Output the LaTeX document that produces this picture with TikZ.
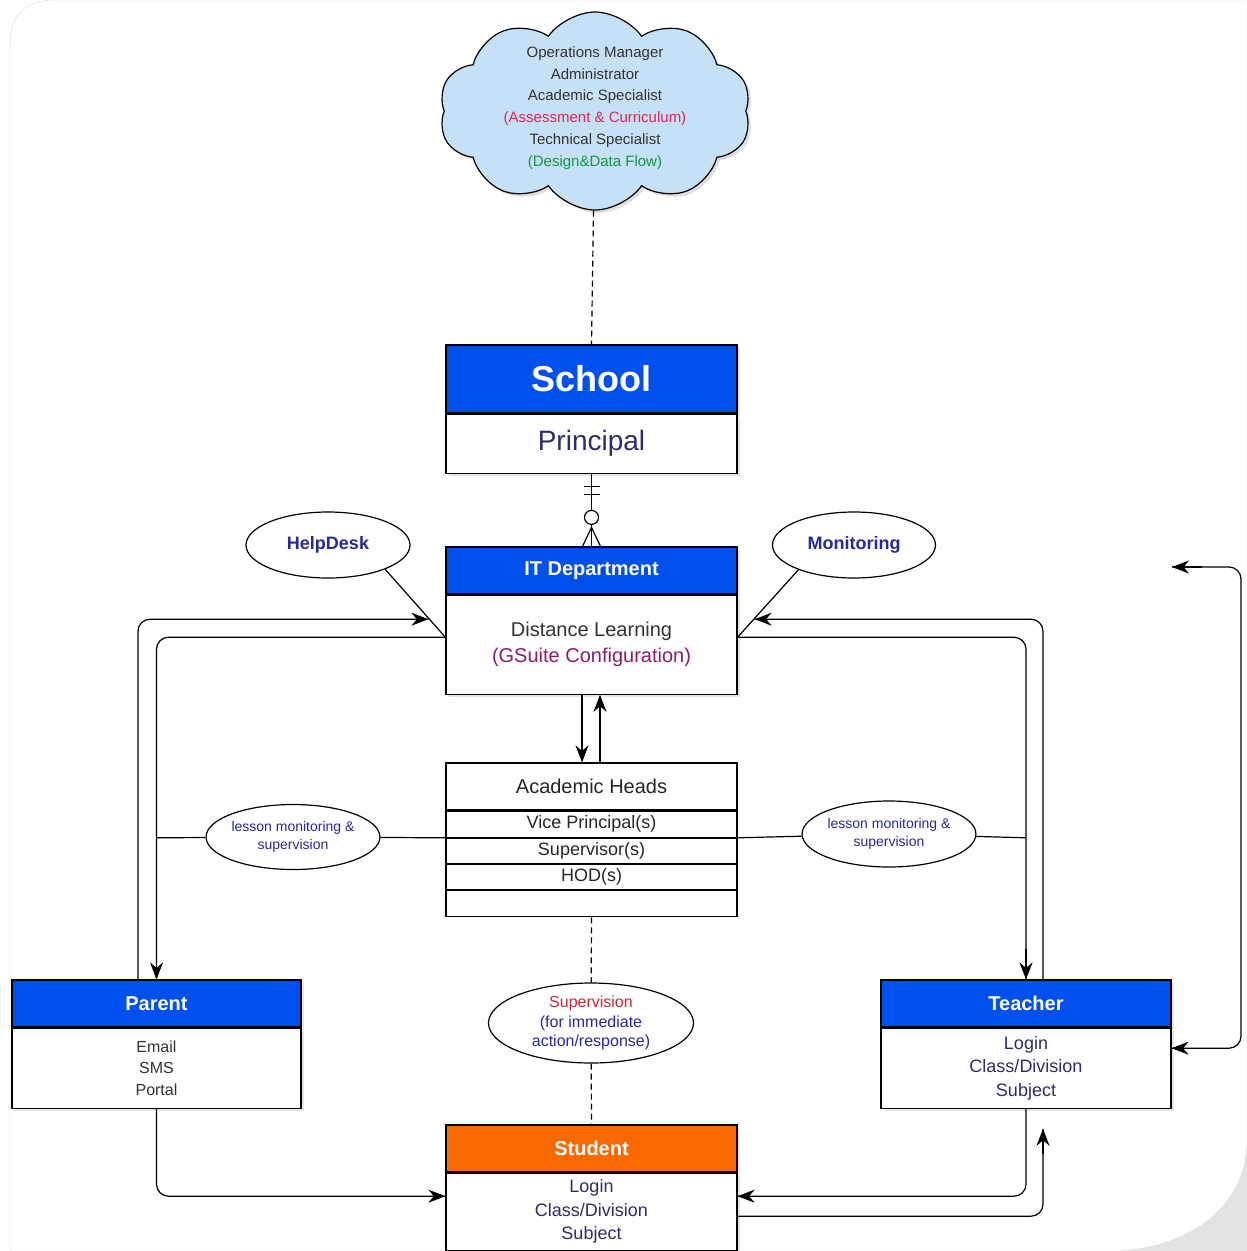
\documentclass[tikz,border=0pt]{standalone}
\usepackage{fontspec}
\setmainfont{Liberation Sans}
\usepackage{tikz}
\usetikzlibrary{arrows.meta, positioning, shapes.geometric, shapes.symbols, shadows, calc}
\definecolor{headblue}{RGB}{0,80,239}
\definecolor{headorange}{RGB}{250,104,0}
\definecolor{cloudblue}{RGB}{198,224,246}
\definecolor{notenavy}{RGB}{40,40,150}
\definecolor{bodynavy}{RGB}{45,45,105}
\definecolor{gsuitepurple}{RGB}{140,30,100}
\definecolor{assessred}{RGB}{220,40,90}
\definecolor{designgreen}{RGB}{20,150,70}
\definecolor{supred}{RGB}{200,40,60}

\begin{document}
\begin{tikzpicture}[x=1pt, y=-1pt,
head node/.style={rectangle, draw=black, line width=1.2pt, fill=headblue, text=white, font=\bfseries\fontsize{20}{24}\selectfont, minimum width=291pt, minimum height=47pt, inner sep=0pt, drop shadow={opacity=0.2, shadow xshift=3pt, shadow yshift=-3pt}},
body node/.style={rectangle, draw=black, line width=1.2pt, fill=white, align=center, minimum width=291pt, inner sep=0pt, font=\fontsize{18}{23.5}\selectfont, drop shadow={opacity=0.2, shadow xshift=3pt, shadow yshift=-3pt}},
row node/.style={rectangle, draw=black, line width=1.2pt, fill=white, minimum width=291pt, inner sep=0pt, text=black!85, font=\fontsize{18}{20}\selectfont},
note node/.style={ellipse, draw=black, line width=1.2pt, fill=white, align=center, inner sep=0pt, text=notenavy},
line/.style={draw=black, line width=1.2pt},
tip/.style={-{Stealth[length=17pt,width=13pt]}},
bend line/.style={line, rounded corners=12pt},
dashline/.style={line, dash pattern=on 6pt off 4pt}]
\useasboundingbox (0,0) rectangle (1247,1251);
\fill[gray!22] (1080,1100) rectangle (1247,1251);
\draw[gray!30, fill=white] (10,1251) -- (10,45) .. controls (10,15) and (25,0) .. (55,0) -- (1247,0) -- (1247,1140) .. controls (1247,1200) and (1200,1245) .. (1120,1251) -- cycle;

\node[cloud, cloud puffs=10, cloud puff arc=110, aspect=1.6, draw=black, line width=1.2pt, fill=cloudblue, minimum width=312pt, minimum height=198pt, inner sep=0pt, text=black!80, font=\fontsize{15}{21.8}\selectfont, drop shadow={opacity=0.25, shadow xshift=3pt, shadow yshift=-3pt}] (team) at (595,111) {\raisebox{0pt}[0pt][0pt]{\begin{tabular}{@{}c@{}}Operations Manager\\Administrator\\Academic Specialist\\\textcolor{assessred}{(Assessment \& Curriculum)}\\Technical Specialist\\\textcolor{designgreen}{(Design\&Data Flow)}\end{tabular}}};

\node[head node, minimum height=68pt, font=\bfseries\fontsize{36}{40}\selectfont] (school) at (591.5,379) {School};
\node[body node, minimum height=59pt, text=bodynavy, font=\fontsize{28}{32}\selectfont, below=0pt of school] (principal) {Principal};

\node[head node] (ithead) at (591.5,570.5) {IT Department};
\node[body node, minimum height=99pt, text=black!80, font=\fontsize{20}{26}\selectfont, below=0pt of ithead] (itbody) {Distance Learning\\\textcolor{gsuitepurple}{(GSuite Configuration)}};

\node[row node, minimum height=47pt, font=\fontsize{20}{24}\selectfont] (acad) at (591.5,786.5) {Academic Heads};
\node[row node, minimum height=26pt, below=0pt of acad] (vp) {Vice Principal(s)};
\node[row node, minimum height=25pt, below=0pt of vp] (sup) {Supervisor(s)};
\node[row node, minimum height=25pt, below=0pt of sup] (hod) {HOD(s)};
\node[row node, minimum height=26pt, below=0pt of hod] (blank) {};

\node[head node, minimum width=289pt] (parenthead) at (156.5,1003.5) {Parent};
\node[body node, minimum width=289pt, minimum height=80pt, text=black!80, font=\fontsize{16}{21.5}\selectfont, below=0pt of parenthead] (parentbody) {Email\\SMS\\Portal};

\node[head node, minimum width=290pt] (teacherhead) at (1026,1003.5) {Teacher};
\node[body node, minimum width=290pt, minimum height=80pt, text=bodynavy, below=0pt of teacherhead] (teacherbody) {Login\\Class/Division\\Subject};

\node[head node, fill=headorange] (studenthead) at (591.5,1148.5) {Student};
\node[body node, minimum height=77pt, text=bodynavy, below=0pt of studenthead] (studentbody) {Login\\Class/Division\\Subject};

\node[note node, minimum width=164pt, minimum height=66pt, font=\bfseries\fontsize{18}{22}\selectfont] (helpdesk) at (328,545) {HelpDesk};
\node[note node, minimum width=163pt, minimum height=66pt, font=\bfseries\fontsize{18}{22}\selectfont] (monitor) at (854,545) {Monitoring};
\node[note node, minimum width=163pt, minimum height=65pt, font=\fontsize{14}{18}\selectfont] (lesl) at (293,837) {lesson monitoring \&\\supervision};
\node[note node, minimum width=162pt, minimum height=66pt, font=\fontsize{14}{18}\selectfont] (lesr) at (889,834) {lesson monitoring \&\\supervision};
\node[note node, minimum width=205pt, minimum height=80pt, font=\fontsize{16}{19.5}\selectfont] (superv) at (591,1023) {\textcolor{supred}{Supervision}\\(for immediate\\action/response)};

\coordinate (loose) at (1172,567);

\draw[dashline] (team) -- (school.north);
\draw[line] (principal.south) -- (ithead.north);
\draw[line] ([xshift=-8pt,yshift=-13pt]principal.south) -- ++(16,0);
\draw[line] ([xshift=-8pt,yshift=-21pt]principal.south) -- ++(16,0);
\draw[line, fill=white] ($(ithead.north)+(0,-29)$) circle (7pt);
\draw[line] ($(ithead.north)+(-9,0)$) -- ($(ithead.north)+(0,-19)$) -- ($(ithead.north)+(9,0)$);

\draw[line] (helpdesk.-23) -- ([yshift=7.5pt]itbody.west);
\draw[line] (monitor.-156) -- ([yshift=7.5pt]itbody.east);

\draw[bend line] ([xshift=-18.5pt]parenthead.north) |- ([xshift=-17pt,yshift=25.5pt]itbody.west);
\draw[line, tip] ([xshift=-40pt,yshift=25.5pt]itbody.west) -- ([xshift=-17pt,yshift=25.5pt]itbody.west);
\draw[bend line] ([yshift=7.5pt]itbody.west) -| (parenthead.north);
\draw[line, tip] ([yshift=30pt]parenthead.north) -- (parenthead.north);
\draw[bend line] ([xshift=17pt]teacherhead.north) |- ([xshift=17pt,yshift=25.5pt]itbody.east);
\draw[line, tip] ([xshift=40pt,yshift=25.5pt]itbody.east) -- ([xshift=17pt,yshift=25.5pt]itbody.east);
\draw[bend line] ([yshift=7.5pt]itbody.east) -| (teacherhead.north);
\draw[line, tip] ([yshift=30pt]teacherhead.north) -- (teacherhead.north);

\draw[line, tip] ([xshift=-9.5pt]itbody.south) -- ([xshift=-9.5pt]acad.north);
\draw[line, tip] ([xshift=8.5pt]acad.north) -- ([xshift=8.5pt]itbody.south);

\draw[line] (parenthead.north |- vp.south) -- (lesl) -- (vp.south west);
\draw[line] (vp.south east) -- (lesr) -- (teacherhead.north |- vp.south);

\draw[dashline] (blank.south) -- (superv) -- (studenthead.north);

\draw[bend line] (parentbody.south) |- ([yshift=15.5pt]studentbody.west);
\draw[line, tip] ([xshift=-30pt,yshift=15.5pt]studentbody.west) -- ([yshift=15.5pt]studentbody.west);
\draw[bend line] (teacherbody.south) |- ([yshift=15.5pt]studentbody.east);
\draw[line, tip] ([xshift=30pt,yshift=15.5pt]studentbody.east) -- ([yshift=15.5pt]studentbody.east);
\draw[bend line] ([yshift=-4.5pt]studentbody.east) -| ([xshift=17pt,yshift=-20pt]teacherbody.south);
\draw[line, tip] ([xshift=17pt,yshift=-45pt]teacherbody.south) -- ([xshift=17pt,yshift=-20pt]teacherbody.south);
\draw[bend line] (loose) -- ++(69,0) |- ([yshift=20pt]teacherbody.east);
\draw[line, tip] ([xshift=30pt]loose) -- (loose);
\draw[line, tip] ([xshift=30pt,yshift=20pt]teacherbody.east) -- ([yshift=20pt]teacherbody.east);
\end{tikzpicture}
\end{document}
